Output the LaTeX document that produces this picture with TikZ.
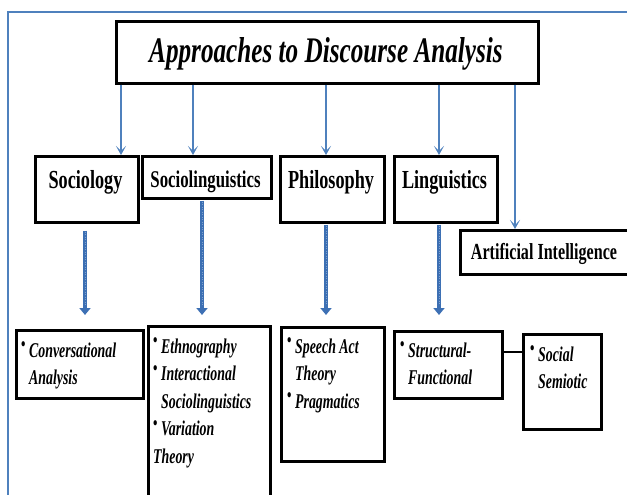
\documentclass[tikz,border=0pt]{standalone}
\usepackage{fontspec}
\setmainfont{Liberation Serif}[FakeStretch=0.7]
\newfontfamily\listfont{Liberation Serif}[FakeStretch=0.66]
\usetikzlibrary{arrows.meta,calc}
\definecolor{frameblue}{HTML}{4F81BD}
\definecolor{arrblue}{HTML}{4F81BD}
\definecolor{thickblue}{HTML}{3D70B4}
\newcommand\bul{\makebox[8pt][l]{\raisebox{6.5pt}{\fontsize{19}{19}\selectfont\upshape\bfseries •}}}
\newcommand\ind{\hspace*{8pt}}
\newcommand\lines[1]{\begin{tabular}[t]{@{}l@{}}#1\end{tabular}}
\begin{document}
\begin{tikzpicture}[x=1pt,y=-1pt,
  box/.style={draw=black, line width=2.6pt, anchor=north west, inner sep=0pt, fill=white},
  titletext/.style={anchor=base, inner sep=0pt, font=\fontsize{36}{40}\selectfont\bfseries\itshape},
  lvltext/.style={anchor=base, inner sep=0pt, font=\fontsize{26}{30}\selectfont\bfseries},
  listtext/.style={anchor=base west, inner sep=0pt, font=\listfont\fontsize{21}{27.5}\selectfont\bfseries\itshape},
  thinarrow/.style={draw=arrblue, line width=1.8pt, -{Stealth[length=9pt,width=10pt,inset=5pt]}},
  thickarrow/.style={draw=thickblue, line width=4.5pt, -{Triangle[length=7pt,width=11pt]}},
  texture/.style={draw=white!35!thickblue, line width=1pt, dash pattern=on 1pt off 1.5pt}
]
\useasboundingbox (0,0) rectangle (627,495);
\clip (0,0) rectangle (627,495);

% outer frame
\draw[frameblue, line width=2pt] (8,505) -- (8,12) -- (640,12);

% title
\node[box, minimum width=422pt, minimum height=62pt] (title) at (115,20) {};
\node[titletext] (titleT) at (326,63) {Approaches to Discourse Analysis};

% second level boxes
\node[box, minimum width=103pt, minimum height=66pt] (soc) at (34,155) {};
\node[box, minimum width=129pt, minimum height=42pt] (sl) at (141,155) {};
\node[box, minimum width=104pt, minimum height=66pt] (ph) at (279,155) {};
\node[box, minimum width=103pt, minimum height=66pt] (li) at (393,155) {};
\node[box, minimum width=200pt, minimum height=44pt] (ai) at (459,229) {};

\node[lvltext] (socT) at (85.5,188) {Sociology};
\node[lvltext, font=\fontsize{24}{28}\selectfont\bfseries] (slT) at (205.5,187) {Sociolinguistics};
\node[lvltext] (phT) at (331,188) {Philosophy};
\node[lvltext] (liT) at (444.5,188) {Linguistics};
\node[lvltext, font=\fontsize{23}{28}\selectfont\bfseries] (aiT) at (544,259) {Artificial Intelligence};

% third level boxes
\node[box, minimum width=127pt, minimum height=68pt] (conv) at (15,329) {};
\node[box, minimum width=122pt, minimum height=190pt] (slL) at (147,325) {};
\node[box, minimum width=103pt, minimum height=134pt] (phL) at (280,326) {};
\node[box, minimum width=108pt, minimum height=67pt] (stL) at (393,330) {};
\node[box, minimum width=78pt, minimum height=95pt] (ssL) at (522,333) {};

\node[listtext] (convT) at (21,357) {\lines{\bul Conversational\\\ind Analysis}};
\node[listtext] (slLT) at (153,353) {\lines{\bul Ethnography\\\bul Interactional\\\ind Sociolinguistics\\\bul Variation\\Theory}};
\node[listtext] (phLT) at (287,353) {\lines{\bul Speech Act\\\ind Theory\\\bul Pragmatics}};
\node[listtext] (stLT) at (400,357) {\lines{\bul Structural-\\\ind Functional}};
\node[listtext] (ssLT) at (530,361) {\lines{\bul Social\\\ind Semiotic}};

% thin arrows from title
\coordinate (xa) at (121,0);
\coordinate (xb) at (193,0);
\coordinate (xc) at (326,0);
\coordinate (xd) at (439,0);
\coordinate (xe) at (515,0);
\draw[thinarrow] (title.south -| xa) -- (soc.north -| xa);
\draw[thinarrow] (title.south -| xb) -- (sl.north -| xb);
\draw[thinarrow] (title.south -| xc) -- (ph.north -| xc);
\draw[thinarrow] (title.south -| xd) -- (li.north -| xd);
\draw[thinarrow] (title.south -| xe) -- (ai.north -| xe);

% thick arrows
\coordinate (ya) at (85,0);
\coordinate (yb) at (202,0);
\coordinate (yc) at (326,0);
\coordinate (yd) at (439,0);
\draw[thickarrow, shorten <=7pt, shorten >=14pt] (soc.south -| ya) -- (conv.north -| ya);
\draw[thickarrow, shorten <=1pt, shorten >=10pt] (sl.south -| yb) -- (slL.north -| yb);
\draw[thickarrow, shorten <=1pt, shorten >=11pt] (ph.south -| yc) -- (phL.north -| yc);
\draw[thickarrow, shorten <=1pt, shorten >=15pt] (li.south -| yd) -- (stL.north -| yd);
\draw[texture, shorten <=8pt, shorten >=24pt] (soc.south -| ya) -- (conv.north -| ya);
\draw[texture, shorten <=2pt, shorten >=20pt] (sl.south -| yb) -- (slL.north -| yb);
\draw[texture, shorten <=2pt, shorten >=21pt] (ph.south -| yc) -- (phL.north -| yc);
\draw[texture, shorten <=2pt, shorten >=25pt] (li.south -| yd) -- (stL.north -| yd);

% connector between Structural-Functional and Social Semiotic
\coordinate (cy) at (0,352);
\draw[line width=2.6pt] (stL.east |- cy) -- (ssL.west |- cy);
\end{tikzpicture}
\end{document}
